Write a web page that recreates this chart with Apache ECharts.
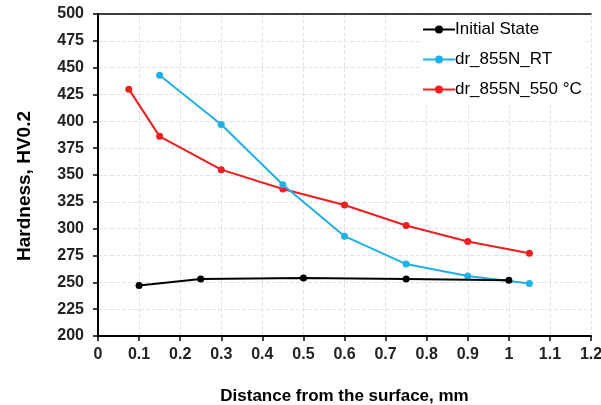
<!DOCTYPE html>
<html><head><meta charset="utf-8">
<script src="https://cdn.jsdelivr.net/npm/echarts@6/dist/echarts.min.js"></script>
<style>html,body{margin:0;padding:0;background:#fff}#c{width:601px;height:405px}</style>
</head><body><div id="c"></div>
<script>
const seriesNames = ['Initial State', 'dr_855N_RT', 'dr_855N_550 °C'];
const initialX = [0.1, 0.25, 0.5, 0.75, 1.0];
const initialY = [247, 253, 254, 253, 252];
const rtX = [0.15, 0.3, 0.45, 0.6, 0.75, 0.9, 1.05];
const rtY = [443, 397, 341, 293, 267, 256, 249];
const hotX = [0.075, 0.15, 0.3, 0.45, 0.6, 0.75, 0.9, 1.05];
const hotY = [430, 386, 355, 337, 322, 303, 288, 277];
const colors = ['#000000', '#1fb0e6', '#f01e1e'];

function pairs(xs, ys) { return xs.map((x, i) => [x, ys[i]]); }
const font = 'Liberation Sans, Arial, sans-serif';
const chart = echarts.init(document.getElementById('c'), null, {renderer: 'canvas'});
const allData = [pairs(initialX, initialY), pairs(rtX, rtY), pairs(hotX, hotY)];
const frameAxis = {
  axisLine: {show: true, lineStyle: {color: '#000', width: 1.5}},
  axisTick: {show: false}, axisLabel: {show: false}, splitLine: {show: false}
};
chart.setOption({
  animation: false,
  backgroundColor: '#fff',
  grid: {left: 98, right: 10, top: 14, bottom: 69, containLabel: false, outerBoundsMode: 'none'},
  legend: {
    orient: 'vertical', left: 420, top: 17,
    itemWidth: 32, itemHeight: 10, itemGap: 13,
    backgroundColor: '#fff', padding: [4, 4, 4, 2],
    textStyle: {fontFamily: font, fontSize: 17, color: '#000', padding: [0, 0, 0, -5]},
    data: seriesNames
  },
  xAxis: [{
    type: 'value', min: 0, max: 1.2, interval: 0.1,
    name: 'Distance from the surface, mm', nameLocation: 'middle', nameGap: 52,
    nameTextStyle: {fontFamily: font, fontSize: 17, fontWeight: 'bold', color: '#000'},
    axisLine: {show: true, onZero: false, lineStyle: {color: '#000', width: 2}},
    axisTick: {show: true, inside: false, length: 5, lineStyle: {color: '#000', width: 1.5}},
    axisLabel: {fontFamily: font, fontSize: 16, fontWeight: 'bold', color: '#222', margin: 11},
    splitLine: {show: true, lineStyle: {color: '#e3e3e3', type: 'dashed', width: 1}}
  }, Object.assign({type: 'value', position: 'top', min: 0, max: 1.2}, frameAxis)],
  yAxis: [{
    type: 'value', min: 200, max: 500, interval: 25,
    name: 'Hardness, HV0.2', nameLocation: 'middle', nameGap: 64,
    nameTextStyle: {fontFamily: font, fontSize: 19, fontWeight: 'bold', color: '#000', padding: [0, 22, 0, 0]},
    axisLine: {show: true, lineStyle: {color: '#000', width: 2}},
    axisTick: {show: true, inside: false, length: 5, lineStyle: {color: '#000', width: 1.5}},
    axisLabel: {fontFamily: font, fontSize: 16, fontWeight: 'bold', color: '#222', margin: 14},
    splitLine: {show: true, lineStyle: {color: '#e3e3e3', type: 'dashed', width: 1}}
  }, Object.assign({type: 'value', position: 'right', min: 200, max: 500}, frameAxis)],
  series: seriesNames.map((n, i) => ({
    name: n, type: 'line', data: allData[i],
    symbol: 'circle', symbolSize: 7,
    lineStyle: {color: colors[i], width: 2},
    itemStyle: {color: colors[i]},
    z: 5 - i
  }))
});
</script></body></html>
